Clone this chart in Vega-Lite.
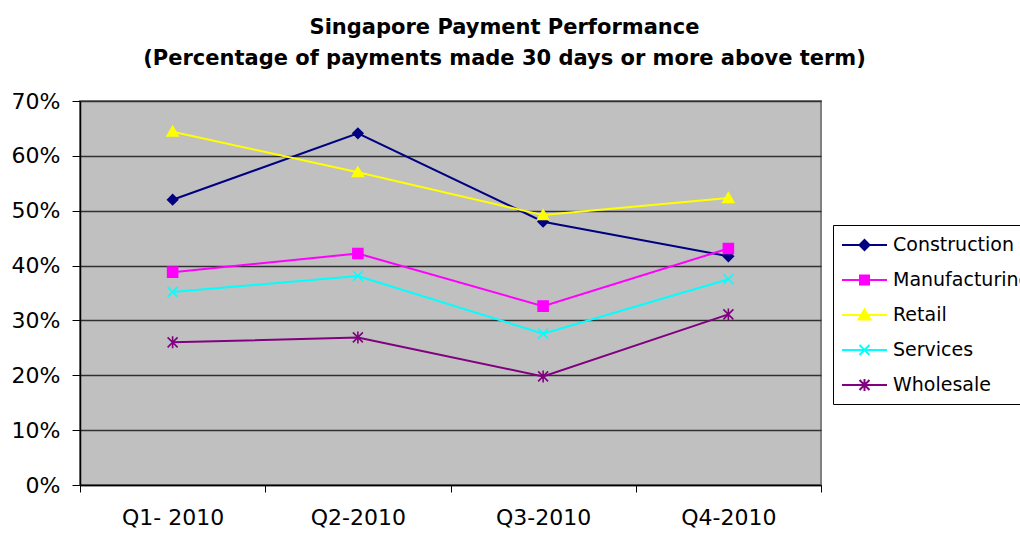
{
  "$schema": "https://vega.github.io/schema/vega-lite/v6.json",
  "autosize": "none",
  "width": 741,
  "height": 384,
  "padding": {"left": 80, "top": 101, "right": 199, "bottom": 52},
  "background": "white",
  "config": {
    "view": {"fill": "#C0C0C0", "stroke": "#808080", "strokeWidth": 2},
    "font": "DejaVu Sans"
  },
  "title": {
    "text": ["Singapore Payment Performance", "(Percentage of payments made 30 days or more above term)"],
    "font": "DejaVu Sans",
    "fontSize": 21,
    "fontWeight": "bold",
    "lineHeight": 31,
    "color": "black",
    "frame": "group",
    "anchor": "middle",
    "dx": 54,
    "offset": 21
  },
  "data": {
    "values": [
      {"quarter": "Q1- 2010", "series": "Construction", "value": 0.520},
      {"quarter": "Q2-2010", "series": "Construction", "value": 0.641},
      {"quarter": "Q3-2010", "series": "Construction", "value": 0.480},
      {"quarter": "Q4-2010", "series": "Construction", "value": 0.417},
      {"quarter": "Q1- 2010", "series": "Manufacturing", "value": 0.388},
      {"quarter": "Q2-2010", "series": "Manufacturing", "value": 0.422},
      {"quarter": "Q3-2010", "series": "Manufacturing", "value": 0.326},
      {"quarter": "Q4-2010", "series": "Manufacturing", "value": 0.431},
      {"quarter": "Q1- 2010", "series": "Retail", "value": 0.644},
      {"quarter": "Q2-2010", "series": "Retail", "value": 0.570},
      {"quarter": "Q3-2010", "series": "Retail", "value": 0.492},
      {"quarter": "Q4-2010", "series": "Retail", "value": 0.523},
      {"quarter": "Q1- 2010", "series": "Services", "value": 0.352},
      {"quarter": "Q2-2010", "series": "Services", "value": 0.381},
      {"quarter": "Q3-2010", "series": "Services", "value": 0.276},
      {"quarter": "Q4-2010", "series": "Services", "value": 0.375},
      {"quarter": "Q1- 2010", "series": "Wholesale", "value": 0.260},
      {"quarter": "Q2-2010", "series": "Wholesale", "value": 0.269},
      {"quarter": "Q3-2010", "series": "Wholesale", "value": 0.198},
      {"quarter": "Q4-2010", "series": "Wholesale", "value": 0.311}
    ]
  },
  "encoding": {
    "x": {
      "field": "quarter",
      "type": "nominal",
      "sort": ["Q1- 2010", "Q2-2010", "Q3-2010", "Q4-2010"],
      "scale": {"type": "band", "paddingInner": 0, "paddingOuter": 0},
      "axis": {
        "title": null,
        "labelAngle": 0,
        "labelFont": "DejaVu Sans",
        "labelFontSize": 22,
        "labelColor": "black",
        "labelPadding": 15,
        "tickBand": "extent",
        "tickSize": 7,
        "tickColor": "black",
        "domainColor": "black",
        "domainWidth": 1.5,
        "grid": false
      }
    },
    "y": {
      "field": "value",
      "type": "quantitative",
      "scale": {"domain": [0, 0.7], "nice": false},
      "axis": {
        "title": null,
        "format": ".0%",
        "values": [0, 0.1, 0.2, 0.3, 0.4, 0.5, 0.6, 0.7],
        "labelFont": "DejaVu Sans",
        "labelFontSize": 22,
        "labelColor": "black",
        "labelPadding": 12,
        "tickSize": 8,
        "tickColor": "black",
        "domainColor": "black",
        "domainWidth": 1.5,
        "grid": true,
        "gridColor": "#303030",
        "gridWidth": 1.3
      }
    },
    "color": {
      "field": "series",
      "type": "nominal",
      "scale": {
        "domain": ["Construction", "Manufacturing", "Retail", "Services", "Wholesale"],
        "range": ["#000080", "#FF00FF", "#FFFF00", "#00FFFF", "#800080"]
      }
    }
  },
  "layer": [
    {
      "mark": {"type": "line", "strokeWidth": 2},
      "encoding": {
        "color": {
          "field": "series",
          "type": "nominal",
          "legend": {
            "title": null,
            "orient": "none",
            "legendX": 753,
            "legendY": 124,
            "strokeColor": "black",
            "fillColor": "white",
            "padding": 9,
            "rowPadding": 14,
            "symbolSize": 400,
            "symbolStrokeWidth": 2,
            "labelFont": "DejaVu Sans",
            "labelFontSize": 19,
            "labelColor": "black",
            "labelOffset": 29,
            "labelLimit": 400,
            "encode": {
              "symbols": {
                "update": {
                  "shape": {"signal": "datum.value === 'Construction' ? 'M-1.1,0H3.4M1.15,-0.5L1.65,0L1.15,0.5L0.65,0Z' : datum.value === 'Manufacturing' ? 'M-1.1,0H3.4M0.7,-0.45H1.6V0.45H0.7Z' : datum.value === 'Retail' ? 'M-1.1,0H3.4M1.15,-0.55L1.75,0.45H0.55Z' : datum.value === 'Services' ? 'M-1.1,0H3.4M0.65,-0.5L1.65,0.5M1.65,-0.5L0.65,0.5' : 'M-1.1,0H3.4M0.65,-0.5L1.65,0.5M1.65,-0.5L0.65,0.5M1.15,-0.6V0.6'"},
                  "size": {"value": 400},
                  "fill": {"scale": "color", "field": "value"},
                  "stroke": {"scale": "color", "field": "value"},
                  "strokeWidth": {"value": 2},
                  "opacity": {"value": 1},
                  "fillOpacity": {"value": 1},
                  "strokeOpacity": {"value": 1}
                }
              }
            }
          }
        }
      }
    },
    {
      "mark": {"type": "point", "filled": true, "opacity": 1, "strokeWidth": 1.6, "size": 100},
      "encoding": {
        "color": {"field": "series", "type": "nominal", "legend": null},
        "shape": {
          "field": "series",
          "type": "nominal",
          "scale": {
            "domain": ["Construction", "Manufacturing", "Retail", "Services", "Wholesale"],
            "range": [
              "diamond",
              "square",
              "M0,-1.05L1.1,0.85H-1.1Z",
              "M-1,-1L1,1M1,-1L-1,1",
              "M-1,-1L1,1M1,-1L-1,1M0,-1.2V1.2"
            ]
          },
          "legend": null
        },
        "stroke": {
          "field": "series",
          "type": "nominal",
          "scale": {
            "domain": ["Construction", "Manufacturing", "Retail", "Services", "Wholesale"],
            "range": ["#000080", "#FF00FF", "#FFFF00", "#00FFFF", "#800080"]
          },
          "legend": null
        }
      }
    }
  ],
  "resolve": {"legend": {"color": "independent", "shape": "independent", "stroke": "independent"}}
}
